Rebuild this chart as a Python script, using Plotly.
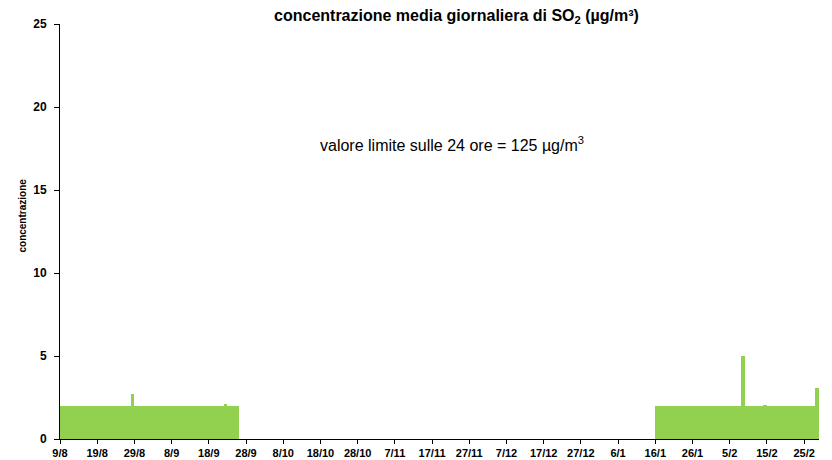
import pandas as pd
import plotly.graph_objects as go

start_1 = "2010-08-09"
values_1 = [
    2.0, 2.0, 2.0, 2.0, 2.0, 2.0, 2.0, 2.0, 2.0, 2.0,
    2.0, 2.0, 2.0, 2.0, 2.0, 2.0, 2.0, 2.0, 2.0, 2.7,
    2.0, 2.0, 2.0, 2.0, 2.0, 2.0, 2.0, 2.0, 2.0, 2.0,
    2.0, 2.0, 2.0, 2.0, 2.0, 2.0, 2.0, 2.0, 2.0, 2.0,
    2.0, 2.0, 2.0, 2.0, 2.1, 2.0, 2.0, 2.0,
]
start_2 = "2011-01-16"
values_2 = [
    2.0, 2.0, 2.0, 2.0, 2.0, 2.0, 2.0, 2.0, 2.0, 2.0,
    2.0, 2.0, 2.0, 2.0, 2.0, 2.0, 2.0, 2.0, 2.0, 2.0,
    2.0, 2.0, 2.0, 5.0, 2.0, 2.0, 2.0, 2.0, 2.0, 2.05,
    2.0, 2.0, 2.0, 2.0, 2.0, 2.0, 2.0, 2.0, 2.0, 2.0,
    2.0, 2.0, 2.0, 3.1,
]

tick_dates = pd.date_range("2010-08-09", "2011-02-25", freq="10D")
tick_labels = ["9/8", "19/8", "29/8", "8/9", "18/9", "28/9", "8/10", "18/10",
               "28/10", "7/11", "17/11", "27/11", "7/12", "17/12", "27/12",
               "6/1", "16/1", "26/1", "5/2", "15/2", "25/2"]

x_range = ["2010-08-09", "2011-03-01"]
y_ticks = [0, 5, 10, 15, 20, 25]

half_day = pd.Timedelta(hours=12)
x1 = pd.date_range(start_1, periods=len(values_1), freq="D") + half_day
x2 = pd.date_range(start_2, periods=len(values_2), freq="D") + half_day

fig = go.Figure()
fig.add_trace(go.Bar(
    x=list(x1) + list(x2),
    y=values_1 + values_2,
    marker=dict(color="#92D050", line=dict(width=0)),
    width=86400000,
    showlegend=False,
))

font_family = "Liberation Sans, Arial"

# the page body keeps its default 8px margin, so the figure starts at (8, 8)
fig.update_layout(
    width=816, height=452,
    paper_bgcolor="white", plot_bgcolor="white",
    margin=dict(l=52, r=5, t=16, b=21, autoexpand=False),
    bargap=0,
    font=dict(family=font_family, color="#000000"),
    title=dict(
        # unicode ³ here: a <sup> would poke out of the top edge
        text="<b>concentrazione media giornaliera di SO<sub>2</sub> (µg/m³)</b>",
        x=0.5496, xanchor="center", y=0.9843, yanchor="middle",
        font=dict(family=font_family, size=16, color="#000000"),
    ),
    xaxis=dict(
        type="date",
        range=x_range,
        tickvals=list(tick_dates),
        ticktext=tick_labels,
        tickfont=dict(family=font_family, size=11, color="#000000", weight="bold"),
        ticks="outside", ticklen=4, tickcolor="#000000",
        showline=True, linecolor="#000000", linewidth=1,
        showgrid=False, zeroline=False, automargin=False,
    ),
    yaxis=dict(
        range=[0, 25],
        tickvals=y_ticks,
        tickfont=dict(family=font_family, size=12, color="#000000", weight="bold"),
        ticks="outside", ticklen=5, tickcolor="#000000",
        ticklabelstandoff=5,
        showline=True, linecolor="#000000", linewidth=1,
        showgrid=False, zeroline=False, automargin=False,
    ),
    annotations=[
        dict(
            text="valore limite sulle 24 ore = 125 µg/m<sup>3</sup>",
            xref="paper", yref="paper", x=0.516, y=0.7386,
            showarrow=False,
            font=dict(family=font_family, size=16, color="#000000"),
        ),
        dict(
            text="<b>concentrazione</b>",
            xref="paper", yref="paper", x=-0.05, y=0.5386,
            xanchor="center", yanchor="middle",
            textangle=-90, showarrow=False,
            font=dict(family=font_family, size=10, color="#000000"),
        ),
    ],
)

fig.write_html("out.html")
